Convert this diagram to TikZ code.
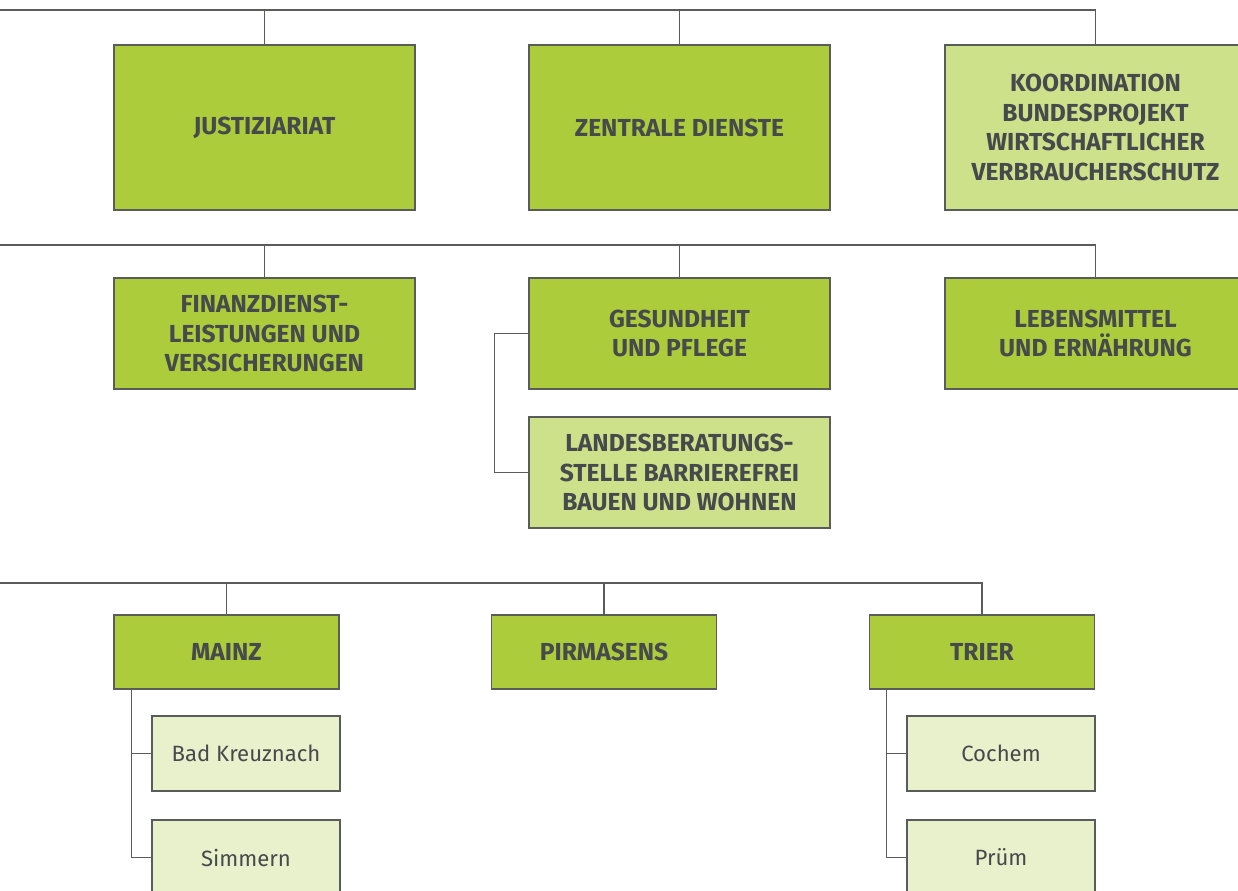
\documentclass[tikz,border=0pt]{standalone}
\usepackage{fontspec}
\setmainfont{Fira Sans}
\usepackage{tikz}

\definecolor{darkgreen}{HTML}{ACCC3B}
\definecolor{midgreen}{HTML}{CDE08A}
\definecolor{palegreen}{HTML}{E8F1CC}
\definecolor{linegray}{HTML}{5A5C5A}
\definecolor{textgray}{HTML}{474A4C}

\begin{document}
\begin{tikzpicture}[
    x=0.02cm, y=-0.02cm,
    unit/.style={draw=linegray, line width=0.8pt, fill=darkgreen, text=textgray,
        font=\fontsize{14}{17}\selectfont\bfseries, align=center, inner sep=0pt},
    bigunit/.style={unit, minimum width=6.02cm, minimum height=3.3cm},
    midunit/.style={unit, minimum width=6.02cm, minimum height=2.22cm},
    office/.style={unit, minimum width=4.5cm, minimum height=1.48cm},
    branch/.style={unit, fill=palegreen, font=\fontsize{12.6}{17}\selectfont,
        minimum width=3.76cm, minimum height=1.5cm},
    conn/.style={draw=linegray, line width=0.7pt}
]
\useasboundingbox (0,0) rectangle (1238,891);

% first row
\node[bigunit] (justiz) at (264.5,127.5) {JUSTIZIARIAT};
\node[bigunit] (zentral) at (679.5,127.5) {ZENTRALE DIENSTE};
\node[bigunit, fill=midgreen] (koord) at (1095.5,127.5) {KOORDINATION\\BUNDESPROJEKT\\WIRTSCHAFTLICHER\\VERBRAUCHERSCHUTZ};

% second row
\node[midunit] (finanz) at (264.5,333.5) {FINANZDIENST-\\LEISTUNGEN UND\\VERSICHERUNGEN};
\node[midunit] (gesund) at (679.5,333.5) {GESUNDHEIT\\UND PFLEGE};
\node[midunit] (lebens) at (1095.5,333.5) {LEBENSMITTEL\\UND ERNÄHRUNG};
\node[midunit, fill=midgreen] (landes) at (679.5,472.5) {LANDESBERATUNGS-\\STELLE BARRIEREFREI\\BAUEN UND WOHNEN};

% offices
\node[office] (mainz) at (226.5,652) {MAINZ};
\node[office] (pirma) at (604,652) {PIRMASENS};
\node[office] (trier) at (982,652) {TRIER};
\node[branch] (kreuz) at (246,753.5) {Bad Kreuznach};
\node[branch] (simm) at (246,857.5) {Simmern};
\node[branch] (cochem) at (1001,753.5) {Cochem};
\node[branch] (pruem) at (1001,857.5) {Prüm};

% connectors
\coordinate (bus1) at (0,10);
\coordinate (bus2) at (0,245);
\coordinate (bus3) at (0,583);
\draw[conn] (bus1) -| (koord.north);
\draw[conn] (justiz.north) -- (justiz.north |- bus1);
\draw[conn] (zentral.north) -- (zentral.north |- bus1);
\draw[conn] (bus2) -| (lebens.north);
\draw[conn] (finanz.north) -- (finanz.north |- bus2);
\draw[conn] (gesund.north) -- (gesund.north |- bus2);
\draw[conn] (gesund.west) -- ++(-34,0) |- (landes.west);
\draw[conn] (bus3) -| (trier.north);
\draw[conn] (mainz.north) -- (mainz.north |- bus3);
\draw[conn] (pirma.north) -- (pirma.north |- bus3);
\draw[conn] ([xshift=0.36cm]mainz.south west) |- (simm.west);
\draw[conn] ([xshift=0.36cm]mainz.south west) |- (kreuz.west);
\draw[conn] ([xshift=0.36cm]trier.south west) |- (pruem.west);
\draw[conn] ([xshift=0.36cm]trier.south west) |- (cochem.west);
\end{tikzpicture}
\end{document}
